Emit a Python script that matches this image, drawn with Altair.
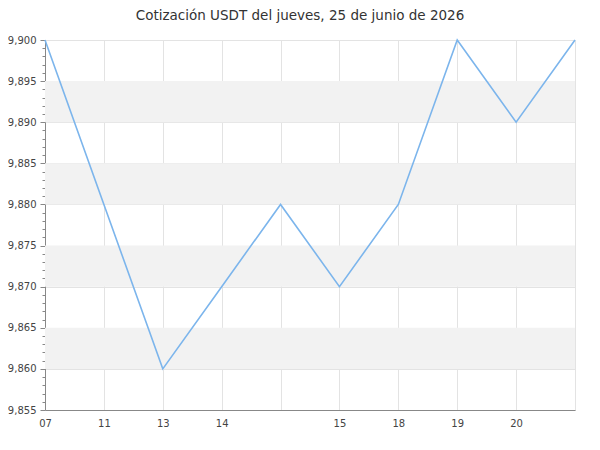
import altair as alt
import pandas as pd

labels = ["07", "11", "13", "14", "", "15", "18", "19", "20", ""]
values = [9.900, 9.880, 9.860, 9.870, 9.880, 9.870, 9.880, 9.900, 9.890, 9.900]
band_starts = [9.860, 9.870, 9.880, 9.890]
band_ends = [9.865, 9.875, 9.885, 9.895]
y_ticks = [9.855, 9.856, 9.857, 9.858, 9.859, 9.860, 9.861, 9.862, 9.863, 9.864,
           9.865, 9.866, 9.867, 9.868, 9.869, 9.870, 9.871, 9.872, 9.873, 9.874,
           9.875, 9.876, 9.877, 9.878, 9.879, 9.880, 9.881, 9.882, 9.883, 9.884,
           9.885, 9.886, 9.887, 9.888, 9.889, 9.890, 9.891, 9.892, 9.893, 9.894,
           9.895, 9.896, 9.897, 9.898, 9.899, 9.900]

W, H = 530, 370
FONT = "DejaVu Sans"

df = pd.DataFrame({"i": list(range(len(values))), "v": values})
bands = pd.DataFrame({"y": band_starts, "y2": band_ends})

label_arr = "[" + ",".join("'" + l + "'" for l in labels) + "]"

yscale = alt.Scale(domain=[9.855, 9.900], nice=False, zero=False)
xscale = alt.Scale(domain=[0, len(values) - 1], nice=False, zero=False)

major = "abs(round(datum.value*1000) % 5) == 0"

yaxis = alt.Axis(
    title=None,
    values=y_ticks,
    labelExpr=f"{major} ? replace(format(datum.value, '.3f'), '.', ',') : ''",
    labelFont=FONT, labelFontSize=10, labelColor="#444",
    labelPadding=4, labelOverlap=False,
    tickColor="#888",
    tickSize={"condition": {"test": major, "value": 5}, "value": 3},
    grid=True,
    gridColor="#e3e3e3",
    gridOpacity={"condition": {"test": major, "value": 1}, "value": 0},
    domainColor="#888",
)

band_layer = alt.Chart(bands).mark_rect(color="#f2f2f2").encode(
    x=alt.value(0),
    x2=alt.value(W),
    y=alt.Y("y:Q", scale=yscale, axis=yaxis),
    y2="y2:Q",
)

line_layer = alt.Chart(df).mark_line(color="#7cb5ec", strokeWidth=1.6).encode(
    x=alt.X("i:Q", scale=xscale,
            axis=alt.Axis(
                title=None,
                values=list(range(len(values))),
                labelExpr=f"{label_arr}[datum.value]",
                labelFont=FONT, labelFontSize=10, labelColor="#444",
                ticks=False, tickSize=0, labelPadding=8,
                grid=True, gridColor="#e3e3e3",
                domainColor="#888",
            )),
    y=alt.Y("v:Q", scale=yscale, axis=yaxis),
)

chart = alt.layer(band_layer, line_layer).properties(
    width=W,
    height=H,
    title=alt.TitleParams(
        "Cotización USDT del jueves, 25 de junio de 2026",
        font=FONT, fontSize=13.5, fontWeight="normal", color="#333",
        anchor="middle", offset=13, dx=-10,
    ),
    autosize=alt.AutoSizeParams(type="none"),
    padding={"left": 37, "top": 32, "right": 17, "bottom": 32},
).configure_view(stroke=None).configure_axis(labelFlush=False)

chart.save("out.html", embed_options={"renderer": "svg", "actions": False})
